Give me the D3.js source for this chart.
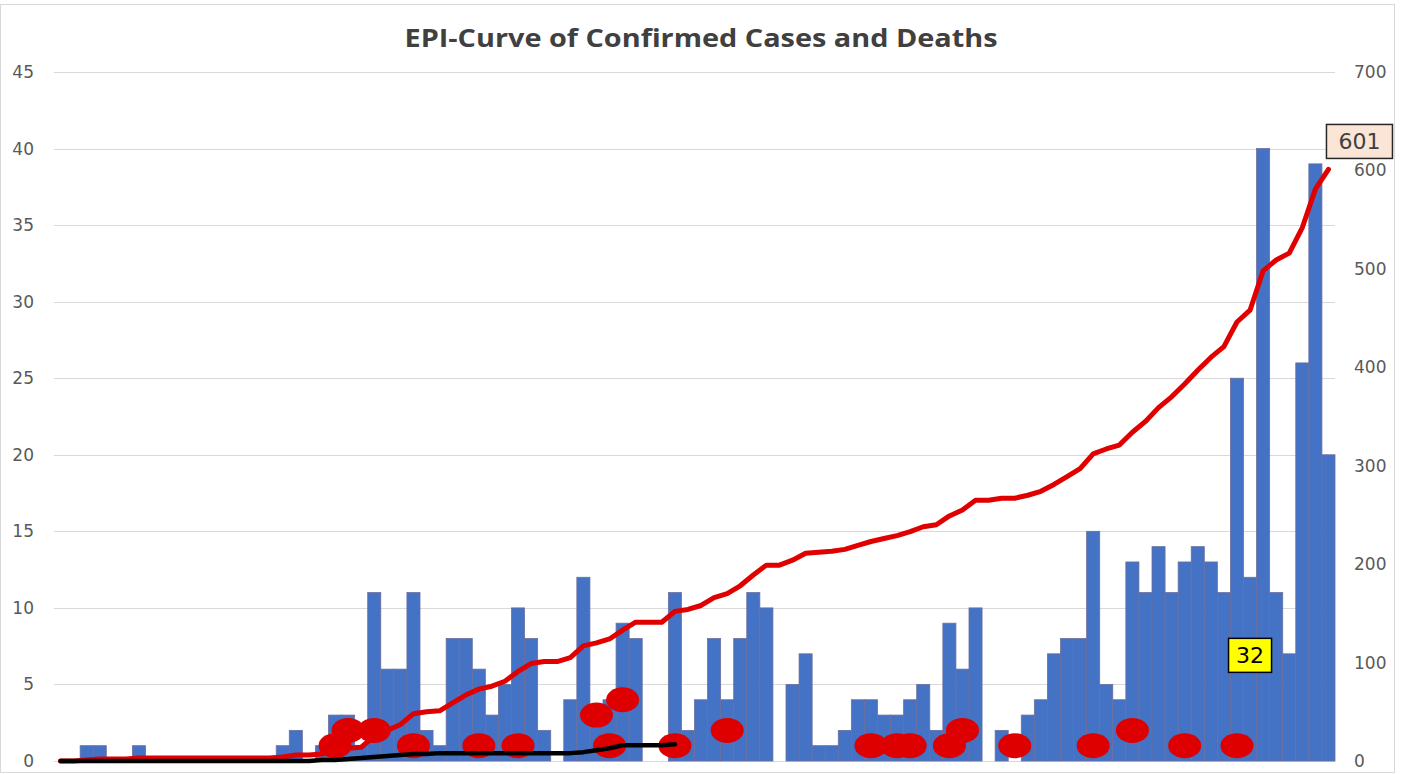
<!DOCTYPE html>
<html>
<head>
<meta charset="utf-8">
<script src="https://cdn.jsdelivr.net/npm/d3@7"></script>
<style>
  body { margin: 0; background: #fff; }
  svg { display: block; }
</style>
</head>
<body>
<div id="chart"></div>
<script>
// Day index of the epidemic (98 days, no axis labels in the original)
const days = d3.range(1, 99);

// Daily confirmed cases (bars, left axis)
const dailyCases = [0,0,1,1,0,0,1,0,0,0,0,0,0,0,0,0,0,1,2,0,1,3,3,1,11,6,6,11,2,1,8,8,6,3,5,10,8,2,0,4,12,3,4,9,8,0,0,11,2,4,8,4,8,11,10,0,5,7,1,1,2,4,4,3,3,4,5,2,9,6,10,0,2,0,3,4,7,8,8,15,5,4,13,11,14,11,13,14,13,11,25,12,40,11,7,26,39,20];

// Cumulative confirmed cases (red line, right axis)
const cumCases = [0,0,1,2,2,2,3,3,3,3,3,3,3,3,3,3,3,4,6,6,7,10,13,14,25,31,37,48,50,51,59,67,73,76,81,91,99,101,101,105,117,120,124,133,141,141,141,152,154,158,166,170,178,189,199,199,204,211,212,213,215,219,223,226,229,233,238,240,249,255,265,265,267,267,270,274,281,289,297,312,317,321,334,345,359,370,383,397,410,421,446,458,498,509,516,542,581,601];

// Cumulative deaths (black line, right axis) - only drawn for the first 48 days
const cumDeaths = [0,0,0,0,0,0,0,0,0,0,0,0,0,0,0,0,0,0,0,0,1,1,2,3,4,5,6,7,7,8,8,8,8,8,8,8,8,8,8,8,9,11,13,16,16,16,16,17];

// Red death markers: day index and stacking level (left axis units)
const deathDay = [21,22,24,27,32,35,41,42,43,47,51,62,64,65,68,69,73,79,82,86,90];
const deathLevel = [1,2,2,1,1,1,3,1,4,1,2,1,1,1,1,2,1,1,2,1,1];

const leftTicks = [0,5,10,15,20,25,30,35,40,45];
const rightTicks = [0,100,200,300,400,500,600,700];

const totalCases = 601;
const totalDeaths = 32;

const width = 1409, height = 774;
const margin = { top: 72, right: 74, bottom: 13, left: 54 };

const svg = d3.select('#chart')
  .append('svg')
  .attr('width', width)
  .attr('height', height);

// chart frame
svg.append('rect')
  .attr('x', 0.5).attr('y', 4.5)
  .attr('width', 1394).attr('height', 768)
  .attr('fill', 'none')
  .attr('stroke', '#d9d9d9');

const x = d3.scaleBand()
  .domain(days)
  .range([margin.left, width - margin.right])
  .padding(0);

const yLeft = d3.scaleLinear()
  .domain([0, 45])
  .range([height - margin.bottom, margin.top]);

const yRight = d3.scaleLinear()
  .domain([0, 700])
  .range([height - margin.bottom, margin.top]);

// gridlines
svg.append('g')
  .selectAll('line')
  .data(leftTicks)
  .enter()
  .append('line')
  .attr('x1', margin.left)
  .attr('x2', width - margin.right)
  .attr('y1', d => Math.round(yLeft(d)) + 0.5)
  .attr('y2', d => Math.round(yLeft(d)) + 0.5)
  .attr('stroke', '#d9d9d9')
  .attr('stroke-width', 1);

// left axis labels
const axisLeft = d3.axisLeft(yLeft).tickValues(leftTicks).tickSize(0).tickPadding(0);
const gL = svg.append('g').attr('transform', 'translate(34,0)').call(axisLeft);
gL.select('.domain').remove();
gL.selectAll('text')
  .attr('fill', '#595959')
  .style('font-family', '"DejaVu Sans", sans-serif')
  .style('font-size', '17px');

// right axis labels
const axisRight = d3.axisRight(yRight).tickValues(rightTicks).tickSize(0).tickPadding(0);
const gR = svg.append('g').attr('transform', 'translate(1354,0)').call(axisRight);
gR.select('.domain').remove();
gR.selectAll('text')
  .attr('fill', '#595959')
  .style('font-family', '"DejaVu Sans", sans-serif')
  .style('font-size', '17px');

// bars
svg.append('g')
  .selectAll('rect')
  .data(dailyCases)
  .enter()
  .append('rect')
  .attr('x', (d, i) => x(days[i]))
  .attr('y', d => yLeft(d))
  .attr('width', x.bandwidth())
  .attr('height', d => yLeft(0) - yLeft(d))
  .attr('fill', d => d > 0 ? '#4472c4' : 'none')
  .attr('stroke', d => d > 0 ? '#6b6f9e' : 'none')
  .attr('stroke-width', 0.8);

// death markers
svg.append('g')
  .selectAll('ellipse')
  .data(deathDay)
  .enter()
  .append('ellipse')
  .attr('cx', (d, i) => x(days[d]) + x.bandwidth() / 2)
  .attr('cy', (d, i) => yLeft(deathLevel[i]))
  .attr('rx', 16.5)
  .attr('ry', 12.5)
  .attr('fill', '#de0000');

// cumulative cases line
const lineCases = d3.line()
  .x((d, i) => x(days[i]) + x.bandwidth() / 2)
  .y(d => yRight(d));

svg.append('path')
  .datum(cumCases)
  .attr('d', lineCases)
  .attr('fill', 'none')
  .attr('stroke', '#e00000')
  .attr('stroke-width', 5)
  .attr('stroke-linejoin', 'round')
  .attr('stroke-linecap', 'round');

// cumulative deaths line
svg.append('path')
  .datum(cumDeaths)
  .attr('d', lineCases)
  .attr('fill', 'none')
  .attr('stroke', '#000')
  .attr('stroke-width', 4.5)
  .attr('stroke-linejoin', 'round')
  .attr('stroke-linecap', 'round');

// label for the total cases
const lastX = x(days[days.length - 1]) + x.bandwidth() / 2;
const lastY = yRight(cumCases[cumCases.length - 1]);
const casesLabel = svg.append('g').attr('transform', `translate(${lastX + 31},${lastY - 28})`);
casesLabel.append('rect')
  .attr('x', -33).attr('y', -17)
  .attr('width', 66).attr('height', 34)
  .attr('fill', '#fbe5d6')
  .attr('stroke', '#262626')
  .attr('stroke-width', 1.5);
casesLabel.append('text')
  .attr('text-anchor', 'middle')
  .attr('dy', '0.36em')
  .attr('fill', '#404040')
  .style('font-family', '"DejaVu Sans", sans-serif')
  .style('font-size', '22px')
  .text(totalCases);

// label for the total deaths
const deathsLabel = svg.append('g')
  .attr('transform', `translate(${x(days[91]) + x.bandwidth() / 2},${yLeft(6.9)})`);
deathsLabel.append('rect')
  .attr('x', -21.5).attr('y', -17)
  .attr('width', 43).attr('height', 34)
  .attr('fill', '#ffff00')
  .attr('stroke', '#000')
  .attr('stroke-width', 1.5);
deathsLabel.append('text')
  .attr('text-anchor', 'middle')
  .attr('dy', '0.36em')
  .attr('fill', '#000')
  .style('font-family', '"DejaVu Sans", sans-serif')
  .style('font-size', '22px')
  .text(totalDeaths);

// title
svg.append('text')
  .attr('x', 701)
  .attr('y', 47)
  .attr('text-anchor', 'middle')
  .attr('fill', '#404040')
  .attr('textLength', 593)
  .attr('lengthAdjust', 'spacingAndGlyphs')
  .style('font-family', '"Open Sans", sans-serif')
  .style('font-weight', 'bold')
  .style('font-size', '25px')
  .text('EPI-Curve of Confirmed Cases and Deaths');
</script>
</body>
</html>
